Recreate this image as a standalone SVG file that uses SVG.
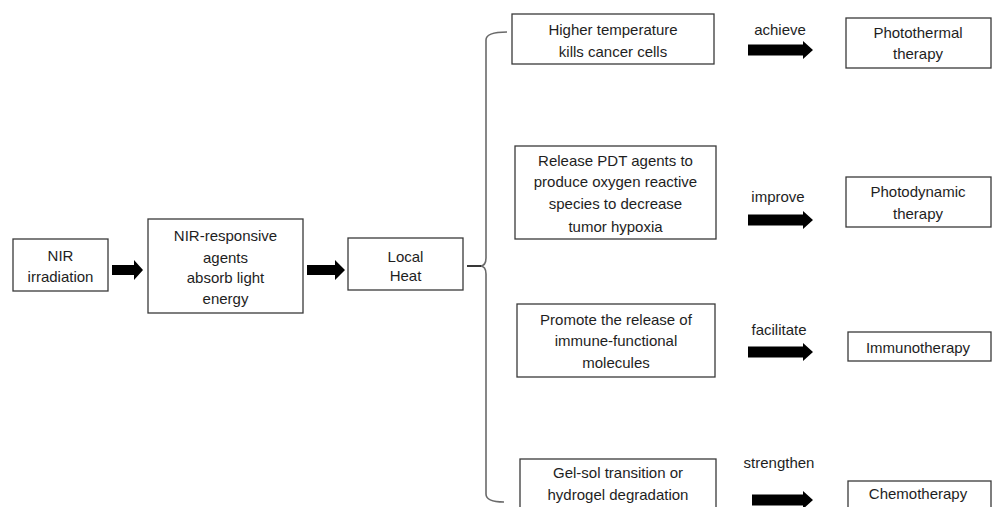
<svg xmlns="http://www.w3.org/2000/svg" width="992" height="507" viewBox="0 0 992 507">
<style>
.box{fill:#fff;stroke:#3a3a3a;stroke-width:1.3}
.t{font-family:"Liberation Sans",Arial,sans-serif;font-size:15px;fill:#1e1e1e;text-anchor:middle;dominant-baseline:central}
.arr{fill:#000}
.brace{fill:none;stroke:#6a6a6a;stroke-width:1.6}
</style>
<rect width="992" height="507" fill="#fff"/>
<g id="connectors">
<polygon class="arr" points="112,265 134,265 134,260 143,270 134,280 134,275 112,275"/>
<polygon class="arr" points="307,265 335,265 335,260 345,270 335,280 335,275 307,275"/>
<path class="brace" d="M507,32 Q486,32 486,40 L486,258 Q486,266 480,266 Q486,266 486,274 L486,494 Q486,502 504,502"/>
<line x1="467" y1="266" x2="481" y2="266" stroke="#222" stroke-width="1.8"/>
<polygon class="arr" points="748,44.5 803,44.5 803,41 813,50 803,59 803,55.5 748,55.5"/>
<polygon class="arr" points="748,214.5 803,214.5 803,211 813,220 803,229 803,225.5 748,225.5"/>
<polygon class="arr" points="748,346.5 803,346.5 803,343 813,352 803,361 803,357.5 748,357.5"/>
<polygon class="arr" points="752,494.5 803,494.5 803,491 813,500 803,509 803,505.5 752,505.5"/>
<text class="t" x="780" y="29">achieve</text>
<text class="t" x="778" y="196">improve</text>
<text class="t" x="779" y="329">facilitate</text>
<text class="t" x="779" y="462">strengthen</text>
</g>
<g id="n-nir"><rect class="box" x="13" y="239" width="95" height="52"/><text class="t" x="60.5" y="255">NIR</text><text class="t" x="60.5" y="276">irradiation</text></g>
<g id="n-agents"><rect class="box" x="148" y="219" width="155" height="94"/><text class="t" x="225.5" y="235">NIR-responsive</text><text class="t" x="225.5" y="257">agents</text><text class="t" x="225.5" y="277">absorb light</text><text class="t" x="225.5" y="298">energy</text></g>
<g id="n-heat"><rect class="box" x="348" y="238" width="115" height="52"/><text class="t" x="405.5" y="256">Local</text><text class="t" x="405.5" y="275">Heat</text></g>
<g id="n-higher"><rect class="box" x="512" y="14" width="202" height="50"/><text class="t" x="613" y="29">Higher temperature</text><text class="t" x="613" y="51">kills cancer cells</text></g>
<g id="n-pdt"><rect class="box" x="515" y="146" width="201" height="93"/><text class="t" x="615.5" y="160">Release PDT agents to</text><text class="t" x="615.5" y="181">produce oxygen reactive</text><text class="t" x="615.5" y="203">species to decrease</text><text class="t" x="615.5" y="226">tumor hypoxia</text></g>
<g id="n-immune"><rect class="box" x="517" y="304" width="198" height="73"/><text class="t" x="616" y="319">Promote the release of</text><text class="t" x="616" y="340">immune-functional</text><text class="t" x="616" y="362">molecules</text></g>
<g id="n-gel"><rect class="box" x="520" y="459" width="196" height="60"/><text class="t" x="618" y="472">Gel-sol transition or</text><text class="t" x="618" y="494">hydrogel degradation</text></g>
<g id="n-ptt"><rect class="box" x="846" y="18" width="145" height="50"/><text class="t" x="918" y="32">Photothermal</text><text class="t" x="918" y="53">therapy</text></g>
<g id="n-pdt2"><rect class="box" x="846" y="177" width="145" height="50"/><text class="t" x="918" y="191">Photodynamic</text><text class="t" x="918" y="213">therapy</text></g>
<g id="n-immuno"><rect class="box" x="848" y="332" width="143" height="29"/><text class="t" x="918" y="347">Immunotherapy</text></g>
<g id="n-chemo"><rect class="box" x="848" y="481" width="143" height="30"/><text class="t" x="918" y="493">Chemotherapy</text></g>
</svg>
